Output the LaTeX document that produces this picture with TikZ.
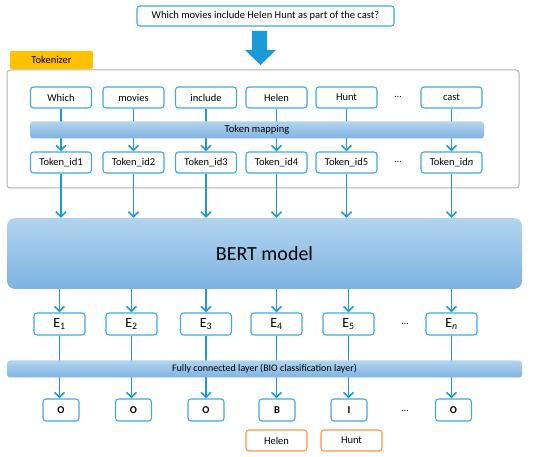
\documentclass[tikz,border=0pt]{standalone}
\usepackage{fontspec}
\setmainfont{Carlito}
\usetikzlibrary{arrows.meta}
\definecolor{bblue}{HTML}{1B9AD8}
\definecolor{bedge}{HTML}{3FA9E0}
\definecolor{bartop}{HTML}{B3D4EE}
\definecolor{barbot}{HTML}{7DB3E2}
\definecolor{tabfill}{HTML}{FFC000}
\definecolor{orng}{HTML}{F79646}
\tikzset{
  wordbox/.style={draw=bedge, line width=1.1pt, rounded corners=3pt, fill=white,
    minimum width=61pt, minimum height=21pt, inner sep=0pt, font=\fontsize{10.5}{12}\selectfont},
  ebox/.style={wordbox, minimum width=51pt, minimum height=22pt, font=\fontsize{14}{16}\selectfont},
  labbox/.style={wordbox, minimum width=36pt, minimum height=22pt, font=\fontsize{10.5}{12}\selectfont\bfseries},
  entbox/.style={wordbox, draw=orng},
  bar/.style={rounded corners=3pt, top color=bartop, bottom color=barbot, draw=none, inner sep=0pt},
  flow/.style={draw=bblue, line width=1.8pt, -{Straight Barb[length=5pt,width=10pt,line width=1.6pt]}}
}
\begin{document}
\begin{tikzpicture}[x=1pt, y=-1pt]
\useasboundingbox (0,0) rectangle (550,457);
% question and big arrow
\node[wordbox, minimum width=257pt, minimum height=20pt] (q) at (265.5,16) {Which movies include Helen Hunt as part of the cast?};
\fill[bblue] (252,31) -- (267,31) -- (267,50) -- (276,50) -- (260.5,65) -- (245,50) -- (252,50) -- cycle;
% tokenizer frame
\draw[gray!60, line width=1pt, rounded corners=3pt] (7,70) rectangle (519,188);
\node[fill=tabfill, rounded corners=2pt, minimum width=83pt, minimum height=18pt, inner sep=0pt,
  font=\fontsize{10.5}{12}\selectfont] (tok) at (51.5,60) {Tokenizer};
% word and token id boxes
\foreach \i/\x/\w in {1/61/Which, 2/133.5/movies, 3/206/include, 4/276.5/Helen, 5/346.5/Hunt, 6/451.5/cast} {
  \node[wordbox] (w\i) at (\x,97.5) {\w};
}
\foreach \i/\x/\t in {1/61/1, 2/133.5/2, 3/206/3, 4/276.5/4, 5/346.5/5, 6/451.5/\textit{n}} {
  \node[wordbox] (t\i) at (\x,162.5) {Token\_id\t};
  \draw[flow] (w\i) -- (t\i);
}
\node[font=\fontsize{10}{12}\selectfont] (dw) at (398,97) {\dots};
\node[font=\fontsize{10}{12}\selectfont] (dt) at (398,162) {\dots};
\node[bar, minimum width=454pt, minimum height=17pt, font=\fontsize{10.5}{12}\selectfont] (map) at (257,130) {Token mapping};
% BERT
\node[bar, rounded corners=8pt, minimum width=515pt, minimum height=71pt, font=\fontsize{20}{24}\selectfont] (bert) at (264.5,253.5) {BERT model};
\foreach \i in {1,...,6} {
  \draw[flow] (t\i) -- (t\i |- bert.north);
}
% E vectors
\foreach \i/\x/\s in {1/59.5/1, 2/131.5/2, 3/206/3, 4/276.5/4, 5/348.5/5, 6/451.5/\textit{n}} {
  \node[ebox] (e\i) at (\x,324) {E\textsubscript{\s}};
  \draw[flow] (e\i |- bert.south) -- (e\i);
}
\node[font=\fontsize{10}{12}\selectfont] (de) at (405,324) {\dots};
% BIO labels
\foreach \i/\x/\l in {1/61/O, 2/133.5/O, 3/206/O, 4/277/B, 5/349/I, 6/453.5/O} {
  \node[labbox] (o\i) at (\x,410) {\l};
  \draw[flow] (e\i) -- (e\i |- o\i.north);
}
\node[font=\fontsize{10}{12}\selectfont] (do) at (405,411) {\dots};
\node[bar, minimum width=515pt, minimum height=17pt, font=\fontsize{10}{12}\selectfont] (fc) at (264.5,369) {Fully connected layer (BIO classification layer)};
% entities
\node[entbox] (helen) at (276.5,440.5) {Helen};
\node[entbox] (hunt) at (351.5,440.5) {Hunt};
\end{tikzpicture}
\end{document}
